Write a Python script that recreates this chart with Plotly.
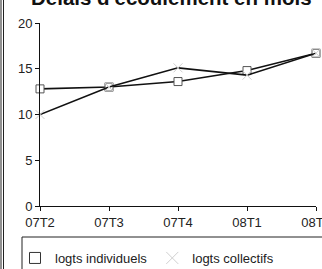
import plotly.graph_objects as go

categories = ["07T2", "07T3", "07T4", "08T1", "08T2"]
individuels = [12.8, 13.0, 13.6, 14.8, 16.7]
collectifs = [10.0, 13.0, 15.1, 14.3, 16.7]
y_ticks = [0, 5, 10, 15, 20]

W, H = 322, 269
L, R, T, B = 40, 6, 23, 63

fig = go.Figure()
fig.add_trace(go.Scatter(
    x=categories, y=individuels, mode="lines+markers", showlegend=False,
    line=dict(color="#111", width=1.6),
    marker=dict(symbol="square", size=8, color="white", line=dict(color="#555", width=1)),
    cliponaxis=False,
))
fig.add_trace(go.Scatter(
    x=categories, y=collectifs, mode="lines+markers", showlegend=False,
    line=dict(color="#111", width=1.6),
    marker=dict(symbol="x-thin-open", size=9, color="#d0d0d0", line=dict(color="#d0d0d0", width=1)),
    cliponaxis=False,
))
# legend entries
fig.add_trace(go.Scatter(
    x=[None], y=[None], mode="markers", name="logts individuels",
    marker=dict(symbol="square", size=11, color="white", line=dict(color="#333", width=1)),
))
fig.add_trace(go.Scatter(
    x=[None], y=[None], mode="markers", name="logts collectifs",
    marker=dict(symbol="x-thin-open", size=12, color="#d0d0d0", line=dict(color="#d0d0d0", width=1)),
))

pw = W - L - R
ph = H - T - B

def px_x(p):
    return (p - L) / pw

def px_y(p):
    return (H - B - p) / ph

fig.update_layout(
    width=W, height=H,
    margin=dict(l=L, r=R, t=T, b=B, autoexpand=False),
    paper_bgcolor="white", plot_bgcolor="white",
    font=dict(family="Liberation Sans, Arial", size=13, color="#222"),
    xaxis=dict(
        type="category", range=[0, 4], showgrid=False, zeroline=False,
        showline=True, linecolor="#111", linewidth=1, automargin=False,
        ticks="outside", ticklen=4, tickcolor="#111",
        tickfont=dict(size=13, color="#222"),
    ),
    yaxis=dict(
        range=[0, 20], tickvals=y_ticks, showgrid=False, zeroline=False,
        showline=True, linecolor="#111", linewidth=1, automargin=False,
        ticks="outside", ticklen=4, tickcolor="#111",
        tickfont=dict(size=13, color="#222"),
    ),
    legend=dict(
        orientation="h", xref="container", yref="container",
        x=15 / W, y=1 - 243 / H, xanchor="left", yanchor="top",
        font=dict(size=13, color="#222"), bgcolor="rgba(0,0,0,0)",
        itemwidth=30, tracegroupgap=0,
    ),
    showlegend=True,
    shapes=[
        dict(type="rect", xref="paper", yref="paper",
             x0=px_x(22), x1=px_x(330), y0=px_y(237), y1=px_y(290),
             line=dict(color="#222", width=1), fillcolor="rgba(0,0,0,0)", layer="below"),
        dict(type="line", xref="paper", yref="paper",
             x0=px_x(1), x1=px_x(1), y0=px_y(-5), y1=px_y(280),
             line=dict(color="#222", width=1)),
        dict(type="line", xref="paper", yref="paper",
             x0=px_x(3.5), x1=px_x(3.5), y0=px_y(-5), y1=px_y(280),
             line=dict(color="#222", width=1)),
    ],
    annotations=[
        dict(text="<b>Délais d'écoulement en mois</b>", xref="paper", yref="paper",
             x=px_x(171), y=px_y(11), xanchor="center", yanchor="bottom",
             showarrow=False, font=dict(size=20.5, color="#111")),
    ],
)

fig.write_html(
    "out.html",
    config={"displayModeBar": False},
    post_script="document.body.style.margin='0';document.body.style.overflow='hidden';",
)
